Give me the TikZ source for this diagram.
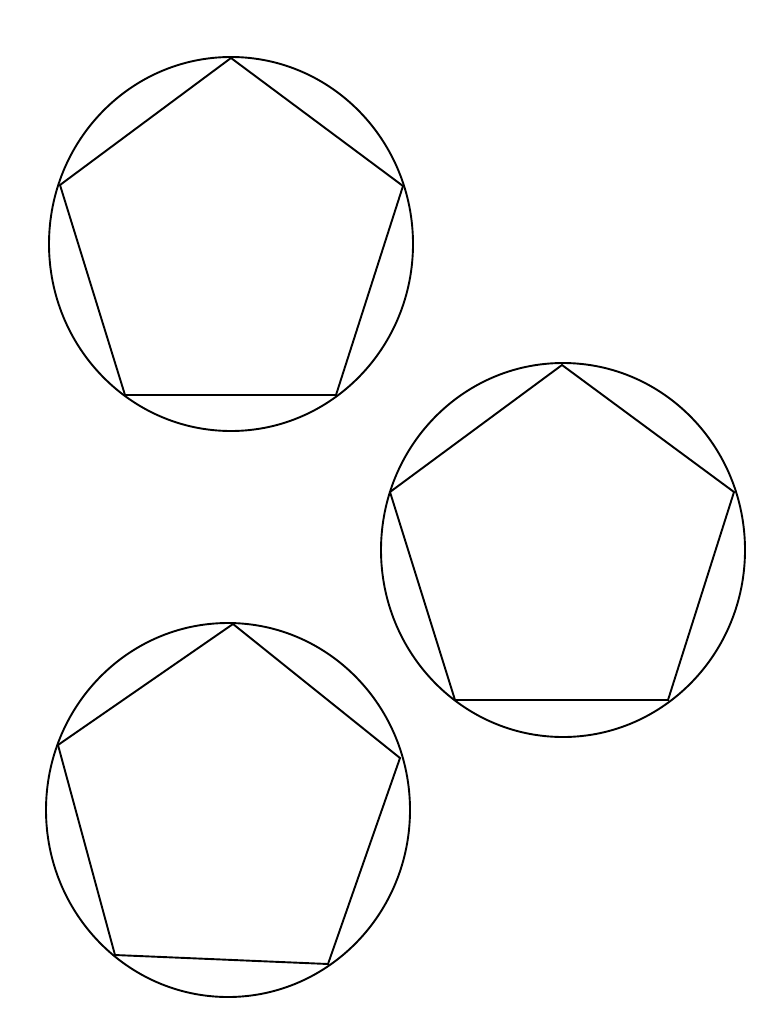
\documentclass[tikz,border=0pt]{standalone}
\usepackage{tikz}
\tikzset{rim/.style={line width=1.9pt}, edge/.style={line width=1.9pt, line join=miter}}
\begin{document}
\begin{tikzpicture}[x=1pt, y=-1pt]
\useasboundingbox (0,0) rectangle (768,1024);

% first circle
\draw [rim] (231,244) ellipse [x radius=182, y radius=187];
\coordinate (a1) at (231,58);
\coordinate (a2) at (403,186);
\coordinate (a3) at (336,395);
\coordinate (a4) at (125,395);
\coordinate (a5) at (60,185);
\draw [edge] (a1) -- (a2) -- (a3) -- (a4) -- (a5) -- cycle;

% second circle
\draw [rim] (563,550) ellipse [x radius=182, y radius=187];
\coordinate (b1) at (562,365);
\coordinate (b2) at (734,492);
\coordinate (b3) at (668,700);
\coordinate (b4) at (455,700);
\coordinate (b5) at (390,492);
\draw [edge] (b1) -- (b2) -- (b3) -- (b4) -- (b5) -- cycle;

% third circle
\draw [rim] (228,810) ellipse [x radius=182, y radius=187];
\coordinate (c1) at (233,624);
\coordinate (c2) at (400,758);
\coordinate (c3) at (328,964);
\coordinate (c4) at (115,955);
\coordinate (c5) at (58,745);
\draw [edge] (c1) -- (c2) -- (c3) -- (c4) -- (c5) -- cycle;
\end{tikzpicture}
\end{document}
